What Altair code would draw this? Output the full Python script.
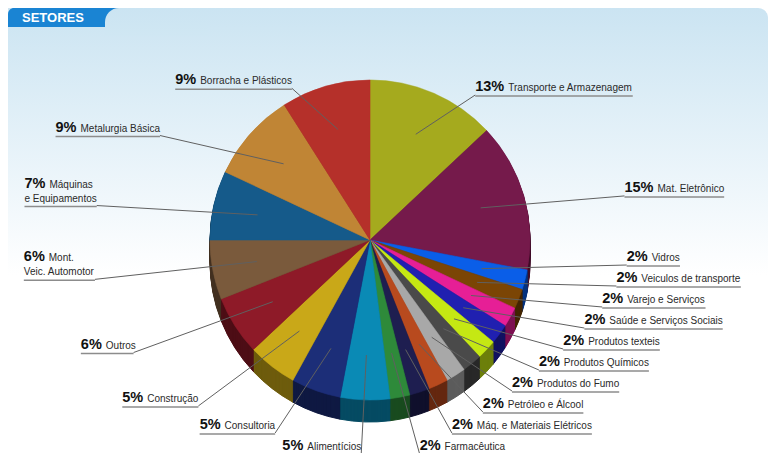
import math
import altair as alt
import pandas as pd

# ---------------- data ----------------
names = [
    "Transporte e Armazenagem", "Mat. Eletrônico", "Vidros", "Veiculos de transporte",
    "Varejo e Serviços", "Saúde e Serviços Sociais", "Produtos texteis", "Produtos Químicos",
    "Produtos do Fumo", "Petróleo e Álcool", "Máq. e Materiais Elétricos", "Farmacêutica",
    "Alimentícios", "Consultoria", "Construção", "Outros", "Mont.\nVeic. Automotor",
    "Máquinas\ne Equipamentos", "Metalurgia Básica", "Borracha e Plásticos",
]
shares = [13, 15, 2, 2, 2, 2, 2, 2, 2, 2, 2, 2, 5, 5, 5, 6, 6, 7, 9, 9]
colors = [
    "#a5aa1e", "#751a4b", "#0a5ee8", "#7b4505", "#e61f96", "#2020b0", "#c5e813", "#4a4a4a",
    "#a8a8a8", "#b84a1e", "#1e1e50", "#2e8a3a", "#0a8ab5", "#1c2e78", "#c9a818", "#8e1a28",
    "#7a5a3c", "#155a8a", "#c08535", "#b5302a",
]

# ---------------- layout constants ----------------
W, H = 760, 445
CX, CY, R, DEPTH = 362, 232, 160, 22
RX_R, RX_L, RY_T, RY_B = 265, 280, 158, 210
GAP, LINE_H, Y_MAX = 21, 14, 446
PCT_SIZE, NAME_SIZE = 14.5, 10
FONT = "Liberation Sans"

ARIAL = {' ': 278, '.': 278, '%': 889, 'a': 556, 'b': 556, 'c': 500, 'd': 556, 'e': 556,
         'f': 278, 'g': 556, 'h': 556, 'i': 222, 'j': 222, 'k': 500, 'l': 222, 'm': 833,
         'n': 556, 'o': 556, 'p': 556, 'q': 556, 'r': 333, 's': 500, 't': 278, 'u': 556,
         'v': 500, 'w': 722, 'x': 500, 'y': 500, 'z': 500, 'A': 667, 'B': 667, 'C': 722,
         'D': 722, 'E': 667, 'F': 611, 'G': 778, 'H': 722, 'I': 278, 'M': 833, 'P': 667,
         'Q': 778, 'S': 667, 'T': 611, 'V': 667, 'á': 556, 'â': 556, 'ã': 556, 'ç': 500,
         'é': 556, 'ê': 556, 'í': 278, 'ó': 556, 'ô': 556, 'ú': 556, 'Á': 667}


def text_w(s, size):
    return sum(ARIAL.get(ch, 556) for ch in s) * size / 1000.0


def darken(hex_color, f=0.55):
    h = hex_color.lstrip("#")
    r, g, b = (int(h[i:i + 2], 16) for i in (0, 2, 4))
    return "#{:02x}{:02x}{:02x}".format(int(r * f), int(g * f), int(b * f))


# ---------------- slices ----------------
slices = []
acc = 0
for n, s, c in zip(names, shares, colors):
    slices.append({"name": n, "start": acc, "end": acc + s, "hex": c,
                   "side_hex": darken(c), "cx": CX, "cy": CY})
    acc += s
slice_df = pd.DataFrame(slices)

side_rows = []
for k in range(DEPTH, 0, -1):
    for row in slices:
        side_rows.append({"start": row["start"], "end": row["end"],
                          "hex": row["side_hex"], "cx": CX, "cy": CY + k})
side_df = pd.DataFrame(side_rows)

# ---------------- label layout ----------------
info = []
for row, s in zip(slices, shares):
    mid = (row["start"] + row["end"]) / 2 * 3.6
    th = math.radians(mid)
    side = "R" if mid < 180 else "L"
    rx = RX_R if side == "R" else RX_L
    ry = RY_T if math.cos(th) > 0 else RY_B
    info.append({"name": row["name"], "pct": f"{s}%", "th": th, "side": side,
                 "ax": CX + rx * math.sin(th), "ay": CY - ry * math.cos(th),
                 "lines": row["name"].split("\n")})

for side in "RL":
    idx = sorted([i for i, d in enumerate(info) if d["side"] == side], key=lambda i: info[i]["ay"])
    ys = [info[i]["ay"] for i in idx]
    nl = [len(info[i]["lines"]) for i in idx]
    for k in range(1, len(idx)):
        ys[k] = max(ys[k], ys[k - 1] + GAP + LINE_H * (nl[k] - 1))
    ys[-1] = min(ys[-1], Y_MAX)
    for k in range(len(idx) - 2, -1, -1):
        ys[k] = min(ys[k], ys[k + 1] - GAP - LINE_H * (nl[k + 1] - 1))
    for i, y in zip(idx, ys):
        info[i]["uy"] = y

pct_rows, name_rows, under_rows, leader_rows = [], [], [], []
for d in info:
    pw = text_w(d["pct"], PCT_SIZE)
    sp = 4
    lines = d["lines"]
    widths = [pw + sp + text_w(lines[0], NAME_SIZE)] + [text_w(l, NAME_SIZE) for l in lines[1:]]
    bw = max(widths)
    left = d["ax"] if d["side"] == "R" else d["ax"] - bw
    uy = d["uy"]
    base0 = uy - 4 - LINE_H * (len(lines) - 1)
    pct_rows.append({"x": left, "y": base0, "t": d["pct"]})
    name_rows.append({"x": left + pw + sp, "y": base0, "t": lines[0]})
    for k, l in enumerate(lines[1:], start=1):
        name_rows.append({"x": left, "y": base0 + k * LINE_H, "t": l})
    under_rows.append({"x": left, "x2": left + bw, "y": uy + 1, "y2": uy + 1})
    leader_rows.append({"x": CX + 0.72 * R * math.sin(d["th"]),
                        "y": CY - 0.72 * R * math.cos(d["th"]),
                        "x2": d["ax"], "y2": uy})

pct_df = pd.DataFrame(pct_rows)
name_df = pd.DataFrame(name_rows)
under_df = pd.DataFrame(under_rows)
leader_df = pd.DataFrame(leader_rows)

# ---------------- chart ----------------
xs = alt.Scale(domain=[0, W], nice=False, zero=False)
ys = alt.Scale(domain=[0, H], nice=False, zero=False, reverse=True)
ths = alt.Scale(domain=[0, 100], range=[0, 2 * math.pi])
one = alt.Data(values=[{"a": 1}])

BG_TOP = "#cbe4f2"
bg = alt.Chart(one).mark_rect(
    cornerRadiusTopRight=10,
    fill=alt.Gradient(gradient="linear",
                      stops=[alt.GradientStop(color=BG_TOP, offset=0),
                             alt.GradientStop(color="#ffffff", offset=0.6),
                             alt.GradientStop(color="#ffffff", offset=1)],
                      x1=0, x2=0, y1=0, y2=1),
).encode(x=alt.value(0), x2=alt.value("width"), y=alt.value(0), y2=alt.value("height"))

tab = alt.Chart(one).mark_rect(color="#1a84d3", cornerRadiusTopLeft=6).encode(
    x=alt.value(0), x2=alt.value(125), y=alt.value(0), y2=alt.value(19))
tab_cut = alt.Chart(one).mark_rect(
    cornerRadiusTopLeft=18,
    fill=alt.Gradient(gradient="linear",
                      stops=[alt.GradientStop(color=BG_TOP, offset=0),
                             alt.GradientStop(color="#d0e7f3", offset=1)],
                      x1=0, x2=0, y1=0, y2=1),
).encode(x=alt.value(97), x2=alt.value(200), y=alt.value(0), y2=alt.value(28))
title = alt.Chart(alt.Data(values=[{"t": "SETORES"}])).mark_text(
    font=FONT, fontSize=13, fontWeight="bold", color="white", align="left", baseline="alphabetic"
).encode(x=alt.value(14), y=alt.value(14), text="t:N")

side = alt.Chart(side_df).mark_arc(outerRadius=R).encode(
    x=alt.X("cx:Q", scale=xs, axis=None), y=alt.Y("cy:Q", scale=ys, axis=None),
    theta=alt.Theta("start:Q", scale=ths, stack=None), theta2="end:Q",
    color=alt.Color("hex:N", scale=None), stroke=alt.Stroke("hex:N", scale=None),
)
top = alt.Chart(slice_df).mark_arc(outerRadius=R, strokeWidth=0.6).encode(
    x=alt.X("cx:Q", scale=xs, axis=None), y=alt.Y("cy:Q", scale=ys, axis=None),
    theta=alt.Theta("start:Q", scale=ths, stack=None), theta2="end:Q",
    color=alt.Color("hex:N", scale=None), stroke=alt.Stroke("hex:N", scale=None),
    tooltip=["name:N"],
)

leaders = alt.Chart(leader_df).mark_rule(color="#606060", strokeWidth=1).encode(
    x=alt.X("x:Q", scale=xs, axis=None), y=alt.Y("y:Q", scale=ys, axis=None),
    x2="x2:Q", y2="y2:Q")
unders = alt.Chart(under_df).mark_rule(color="#8c8c8c", strokeWidth=1.5).encode(
    x=alt.X("x:Q", scale=xs, axis=None), y=alt.Y("y:Q", scale=ys, axis=None),
    x2="x2:Q", y2="y2:Q")
pcts = alt.Chart(pct_df).mark_text(
    font=FONT, fontSize=PCT_SIZE, fontWeight="bold", color="#111111", align="left",
    baseline="alphabetic").encode(
    x=alt.X("x:Q", scale=xs, axis=None), y=alt.Y("y:Q", scale=ys, axis=None), text="t:N")
labels = alt.Chart(name_df).mark_text(
    font=FONT, fontSize=NAME_SIZE, color="#2a2a2a", align="left", baseline="alphabetic").encode(
    x=alt.X("x:Q", scale=xs, axis=None), y=alt.Y("y:Q", scale=ys, axis=None), text="t:N")

chart = alt.layer(bg, tab, tab_cut, title, side, top, leaders, unders, pcts, labels).properties(
    width=W, height=H, padding=0, autosize="none"
).configure_view(stroke=None)

chart.save("out.html", embed_options={"renderer": "svg", "actions": False})
